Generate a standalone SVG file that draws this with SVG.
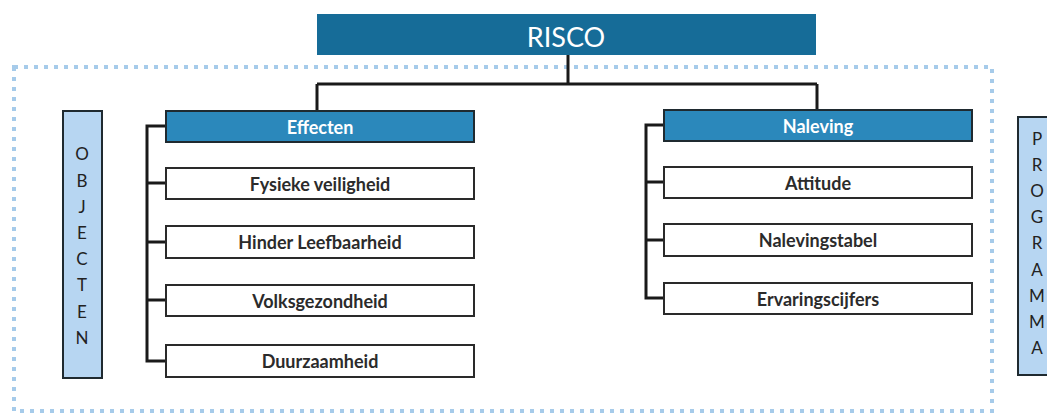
<svg xmlns="http://www.w3.org/2000/svg" width="1047" height="414" viewBox="0 0 1047 414">
<style>
.frame{fill:none;stroke:#a6cbea;stroke-width:4;stroke-dasharray:4 6}
.conn{fill:none;stroke:#1a1a1a;stroke-width:3}
.hdr{fill:#2b88bb;stroke:#1f2a30;stroke-width:2}
.box{fill:#ffffff;stroke:#2a2a2a;stroke-width:2}
.side{fill:#b7d6f2;stroke:#1f2a30;stroke-width:2}
.lbl{font-family:Lato,"Liberation Sans",sans-serif;font-weight:bold;font-size:18px;fill:#2b2b2b;text-anchor:middle;dominant-baseline:central}
.hlbl{font-family:Lato,"Liberation Sans",sans-serif;font-weight:bold;font-size:18px;fill:#ffffff;text-anchor:middle;dominant-baseline:central}
.vlbl{font-family:Lato,"Liberation Sans",sans-serif;font-size:17px;fill:#222;text-anchor:middle;dominant-baseline:central}
</style>
<rect class="frame" x="14" y="67" width="978" height="344"/>
<g id="connectors">
<path class="conn" d="M568 55 V84 M317 84 H817 M317 84 V111 M817 84 V110"/>
<path class="conn" d="M166 126 H147 V361 H166 M147 183 H166 M147 242 H166 M147 300 H166"/>
<path class="conn" d="M664 125 H646 V298 H664 M646 182 H664 M646 240 H664"/>
</g>
<g id="risco">
<rect x="317" y="14" width="499" height="41" fill="#166c98"/>
<text x="566" y="36" font-family="Lato,'Liberation Sans',sans-serif" font-size="27" fill="#ffffff" text-anchor="middle" dominant-baseline="central">RISCO</text>
</g>
<g id="effecten">
<rect class="hdr" x="166" y="111" width="308" height="31"/>
<text class="hlbl" x="320" y="126.5">Effecten</text>
</g>
<g id="fysieke">
<rect class="box" x="166" y="168" width="308" height="31"/>
<text class="lbl" x="320" y="183.5">Fysieke veiligheid</text>
</g>
<g id="hinder">
<rect class="box" x="166" y="226" width="308" height="32"/>
<text class="lbl" x="320" y="242">Hinder Leefbaarheid</text>
</g>
<g id="volks">
<rect class="box" x="166" y="285" width="308" height="31"/>
<text class="lbl" x="320" y="300.5">Volksgezondheid</text>
</g>
<g id="duurzaam">
<rect class="box" x="166" y="345" width="308" height="32"/>
<text class="lbl" x="320" y="361">Duurzaamheid</text>
</g>
<g id="naleving">
<rect class="hdr" x="664" y="110" width="308" height="31"/>
<text class="hlbl" x="818" y="125.5">Naleving</text>
</g>
<g id="attitude">
<rect class="box" x="664" y="167" width="308" height="31"/>
<text class="lbl" x="818" y="182.5">Attitude</text>
</g>
<g id="nalevingstabel">
<rect class="box" x="664" y="224" width="308" height="32"/>
<text class="lbl" x="818" y="240">Nalevingstabel</text>
</g>
<g id="ervaring">
<rect class="box" x="664" y="283" width="308" height="31"/>
<text class="lbl" x="818" y="298.5">Ervaringscijfers</text>
</g>
<g id="objecten">
<rect class="side" x="63" y="111" width="39" height="267"/>
<text class="vlbl" x="82" y="153">O</text>
<text class="vlbl" x="82" y="180">B</text>
<text class="vlbl" x="82" y="206">J</text>
<text class="vlbl" x="82" y="232">E</text>
<text class="vlbl" x="82" y="258">C</text>
<text class="vlbl" x="82" y="284">T</text>
<text class="vlbl" x="82" y="311">E</text>
<text class="vlbl" x="82" y="337">N</text>
</g>
<g id="programma">
<rect class="side" x="1018" y="117" width="40" height="258"/>
<text class="vlbl" x="1037" y="138">P</text>
<text class="vlbl" x="1037" y="164">R</text>
<text class="vlbl" x="1037" y="190">O</text>
<text class="vlbl" x="1037" y="216">G</text>
<text class="vlbl" x="1037" y="242">R</text>
<text class="vlbl" x="1037" y="269">A</text>
<text class="vlbl" x="1037" y="295">M</text>
<text class="vlbl" x="1037" y="321">M</text>
<text class="vlbl" x="1037" y="347">A</text>
</g>
</svg>
